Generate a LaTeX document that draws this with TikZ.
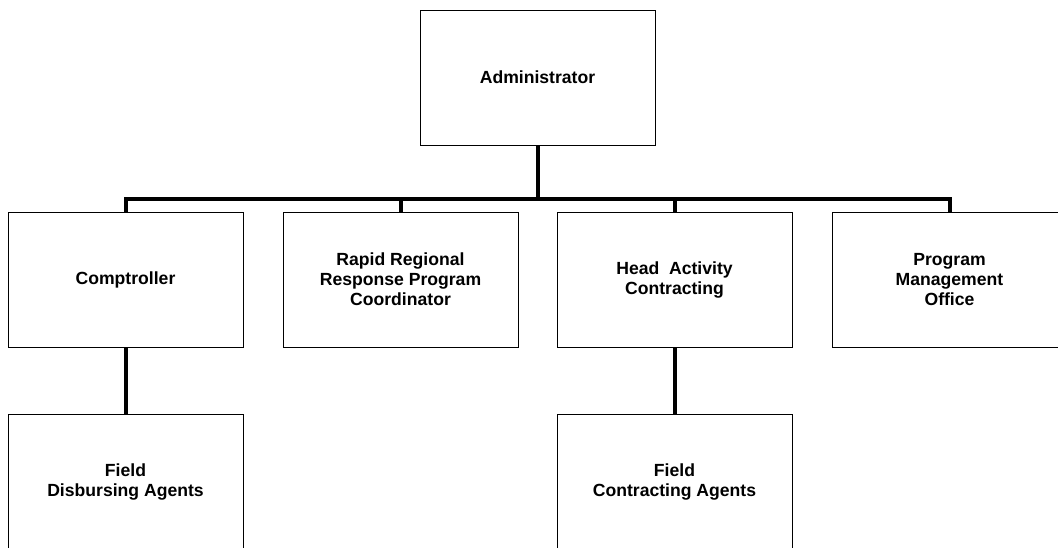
\documentclass[tikz,border=0pt]{standalone}
\usepackage{fontspec}
\setmainfont{Liberation Sans}
\begin{document}
\begin{tikzpicture}[x=1pt,y=-1pt,
  orgbox/.style={draw=black, line width=0.9pt, fill=white, minimum width=235pt, minimum height=135pt,
    inner sep=0pt, align=center, font=\bfseries\fontsize{17.6}{20}\selectfont},
  conn/.style={line width=4pt, line join=miter, line cap=butt}]
\useasboundingbox (0,0) rectangle (1058,547);
\clip (0,0) rectangle (1058,547);
\coordinate (bar) at (537.5,199);
\node[orgbox] (adm) at (537.5,77.5) {Administrator};
\node[orgbox] (comp) at (125.5,279.5) {Comptroller};
\node[orgbox] (rrr) at (400.5,279.5) {Rapid Regional\\Response Program\\Coordinator};
\node[orgbox] (head) at (674.5,279.5) {Head\ \ Activity\\Contracting};
\node[orgbox] (pmo) at (949.5,279.5) {Program\\Management\\Office};
\node[orgbox] (fda) at (125.5,481.5) {Field\\Disbursing Agents};
\node[orgbox] (fca) at (674.5,481.5) {Field\\Contracting Agents};
\draw[conn] (adm.south) -- (bar);
\draw[conn] (comp.north) |- (bar) -| (pmo.north);
\draw[conn] (rrr.north) -- (rrr.north |- bar);
\draw[conn] (head.north) -- (head.north |- bar);
\draw[conn] (comp.south) -- (fda.north);
\draw[conn] (head.south) -- (fca.north);
\end{tikzpicture}
\end{document}
